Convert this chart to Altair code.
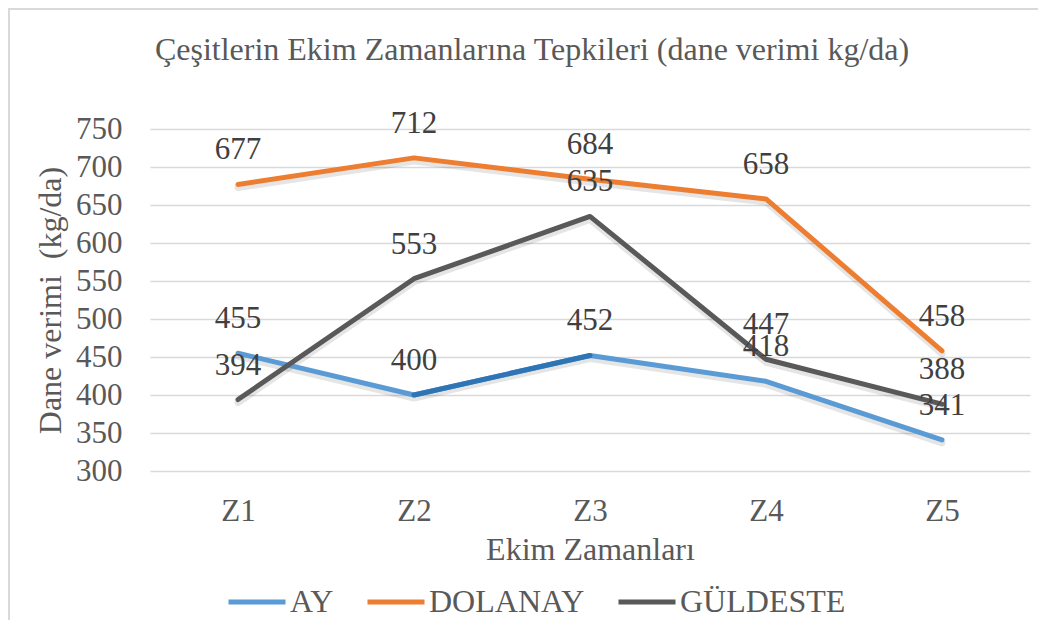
import altair as alt
import pandas as pd

categories = ["Z1", "Z2", "Z3", "Z4", "Z5"]
series = ["AY", "DOLANAY", "GÜLDESTE"]
ay = [455, 400, 452, 418, 341]
dolanay = [677, 712, 684, 658, 458]
guldeste = [394, 553, 635, 447, 388]
colors = ["#5B9BD5", "#ED7D31", "#595959"]
title_text = "Çeşitlerin Ekim Zamanlarına Tepkileri (dane verimi kg/da)"

rows = []
for name, vals in zip(series, [ay, dolanay, guldeste]):
    for c, v in zip(categories, vals):
        rows.append({"zaman": c, "seri": name, "verim": v})
df = pd.DataFrame(rows)

FONT = "Liberation Serif"
W, H = 880, 342

yscale = alt.Scale(domain=[300, 750], nice=False, zero=False)
yaxis = alt.Axis(values=list(range(300, 751, 50)), title="Dane verimi \u00a0(kg/da)",
                 ticks=False, domain=False, gridColor="#D9D9D9", gridWidth=1.5,
                 labelPadding=28, titlePadding=8)
x = alt.X("zaman:N", sort=categories,
          scale=alt.Scale(type="point", padding=0.5),
          axis=alt.Axis(title="Ekim Zamanları", labelAngle=0, ticks=False, domain=False,
                        grid=False, labelPadding=25, titlePadding=8))
y = alt.Y("verim:Q", scale=yscale, axis=yaxis)

base = alt.Chart(df).encode(x=x, y=y)

frame = alt.Chart(pd.DataFrame({"k": [0]})).mark_rect(
    fillOpacity=0, stroke="#D9D9D9", strokeWidth=2
).encode(x=alt.value(-141), x2=alt.value(1100), y=alt.value(-120), y2=alt.value(H + 300))

title = alt.Chart(pd.DataFrame({"t": [title_text]})).mark_text(
    font=FONT, fontSize=32, color="#595959", baseline="middle", align="center"
).encode(text="t:N", x=alt.value(382), y=alt.value(-79))

shadow = alt.Chart(df).transform_calculate(sv="datum.verim - 4").mark_line(
    strokeWidth=7, strokeCap="round", strokeJoin="round", color="#000000", opacity=0.10
).encode(x=x, y=alt.Y("sv:Q", scale=yscale, axis=yaxis), detail="seri:N")

lines = base.mark_line(strokeWidth=5, strokeCap="round", strokeJoin="round").encode(
    color=alt.Color("seri:N", scale=alt.Scale(domain=series, range=colors),
                    legend=alt.Legend(title=None, orient="none", direction="horizontal",
                                      legendX=76, legendY=442, symbolType="stroke",
                                      symbolSize=3249, symbolStrokeWidth=5,
                                      labelFontSize=32, labelFont=FONT, labelColor="#595959",
                                      labelOffset=2, columnPadding=23, padding=0,
                                      labelLimit=400))
)

seg = alt.Chart(df).transform_filter(
    "datum.seri == 'AY' && (datum.zaman == 'Z2' || datum.zaman == 'Z3')"
).mark_line(strokeWidth=5, strokeCap="round", color="#2E75B6").encode(x=x, y=y)

labels = base.mark_text(dy=-34, fontSize=31, font=FONT, color="#404040").encode(text="verim:Q")

chart = alt.layer(frame, title, shadow, lines, seg, labels).properties(
    width=W, height=H,
    autosize=alt.AutoSizeParams(type="none"),
    padding={"left": 142, "top": 121, "right": 8, "bottom": 149},
    background="white",
).configure_view(stroke=None).configure_axis(
    labelFont=FONT, titleFont=FONT, labelFontSize=31, titleFontSize=32,
    labelColor="#595959", titleColor="#595959", titleFontWeight="normal"
)

chart.save("out.html", embed_options={"renderer": "svg", "actions": False})
